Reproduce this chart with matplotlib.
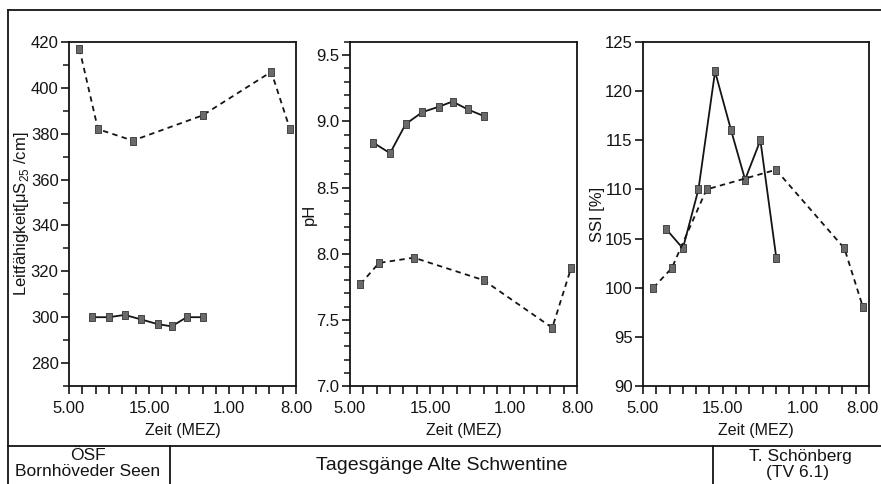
import numpy as np
import matplotlib
matplotlib.use("Agg")
import matplotlib.pyplot as plt
from matplotlib.lines import Line2D
from matplotlib.ticker import MultipleLocator, FixedLocator, FormatStrFormatter
from matplotlib.transforms import ScaledTranslation

plt.rcParams['font.family'] = ['Liberation Sans', 'DejaVu Sans']
plt.rcParams['mathtext.fontset'] = 'custom'
plt.rcParams['mathtext.rm'] = 'Liberation Sans'

# x positions in tick units (18 ticks, 5.00 ... 8.00 next day)
tick_labels = {0: "5.00", 6: "15.00", 12: "1.00", 17: "8.00"}
t_solid = [1.72, 3.0, 4.17, 5.42, 6.63, 7.68, 8.83, 10.03]
t_dash = [0.78, 2.17, 4.78, 10.0, 15.15, 16.55]

# Leitfähigkeit
cond_solid = [300, 300, 301, 299, 297, 296, 300, 300]
cond_dash = [417, 382, 377, 388, 407, 382]
# pH
ph_solid = [8.84, 8.76, 8.98, 9.07, 9.11, 9.15, 9.09, 9.04]
ph_dash = [7.77, 7.93, 7.97, 7.80, 7.44, 7.89]
# SSI
ssi_solid = [106, 104, 110, 122, 116, 111, 115, 103]
ssi_dash = [100, 102, 110, 112, 104, 98]

W, H = 881, 484
fig = plt.figure(figsize=(W / 100, H / 100), dpi=100)

def fx(px):
    return px / W

def fy(py):
    return 1 - py / H

top, bot = 42, 386
panels = [
    (69, 296, cond_solid, cond_dash, (270, 420), np.arange(280, 421, 20), 10, "%d",
     "Leitfähigkeit[μS$_{\\mathrm{25}}$ /cm]"),
    (350, 577, ph_solid, ph_dash, (7.0, 9.6), np.arange(7.0, 9.51, 0.5), 0.1, "%.1f", "pH"),
    (643, 869, ssi_solid, ssi_dash, (90, 125), np.arange(90, 126, 5), None, "%d", "SSI [%]"),
]

rect = [(-0.33, -0.5), (0.33, -0.5), (0.33, 0.5), (-0.33, 0.5), (-0.33, -0.5)]
ink = "#141414"

axes = []
for left, right, ys, yd, ylim, yt, minor, fmt, ylab in panels:
    ax = fig.add_axes([fx(left), fy(bot), fx(right - left), (bot - top) / H])
    ax.plot(t_solid, ys, color=ink, lw=1.3, ls="-",
            marker=rect, ms=6, mfc="#6a6a6a", mec="#333333", mew=0.6)
    ax.plot(t_dash, yd, color=ink, lw=1.3, ls=(0, (3, 2.4)),
            marker=rect, ms=6, mfc="#6a6a6a", mec="#333333", mew=0.6)
    ax.set_xlim(0, 17)
    ax.set_ylim(*ylim)
    ax.xaxis.set_major_locator(FixedLocator(np.arange(0, 18)))
    ax.set_xticklabels([tick_labels.get(i, "") for i in range(18)])
    ax.set_yticks(yt)
    if minor:
        ax.yaxis.set_minor_locator(MultipleLocator(minor))
    ax.yaxis.set_major_formatter(FormatStrFormatter(fmt))
    ax.tick_params(axis="both", which="major", direction="out", length=6,
                   width=1.2, labelsize=12, colors=ink)
    ax.tick_params(axis="x", which="major", pad=5)
    ax.tick_params(axis="y", which="major", pad=1.5)
    ax.tick_params(axis="y", which="minor", direction="out", length=4, width=1.1,
                   colors=ink)
    for s in ax.spines.values():
        s.set_linewidth(1.3)
        s.set_color(ink)
    ax.set_xlabel("Zeit (MEZ)", fontsize=11.5, color=ink, labelpad=5)
    ax.set_ylabel(ylab, fontsize=12, color=ink, labelpad=0)
    axes.append(ax)

# last tick label of the right panel sits a bit left so it stays in the picture
lbl = axes[2].get_xticklabels()[17]
lbl.set_transform(lbl.get_transform() + ScaledTranslation(-5 / 72, 0, fig.dpi_scale_trans))

# outer frame and footer table
lw = 1.3
lines = [
    ((8, W), (10, 10)),
    ((8, 8), (10, H)),
    ((8, W), (446, 446)),
    ((170, 170), (446, H)),
    ((713, 713), (446, H)),
]
for xs, ys_ in lines:
    fig.add_artist(Line2D([fx(x) for x in xs], [fy(y) for y in ys_],
                          color=ink, lw=lw))

fig.text(fx(88), fy(456), "ÖSF", ha="center", va="center", fontsize=12.5, color=ink)
fig.text(fx(88), fy(472), "Bornhöveder Seen", ha="center", va="center",
         fontsize=12.5, color=ink)
fig.text(fx(442), fy(466), "Tagesgänge Alte Schwentine", ha="center",
         va="center", fontsize=14, color=ink)
fig.text(fx(800), fy(456), "T. Schönberg", ha="center", va="center",
         fontsize=12.5, color=ink)
fig.text(fx(798), fy(472), "(TV 6.1)", ha="center", va="center",
         fontsize=12.5, color=ink)

fig.savefig("out.png", dpi=100)
